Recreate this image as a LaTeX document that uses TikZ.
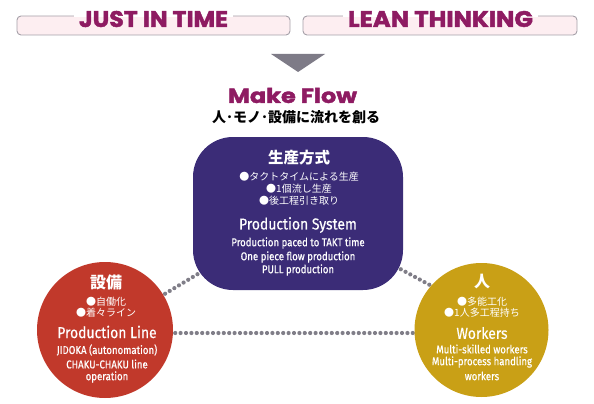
\documentclass[tikz,border=0pt]{standalone}
\usepackage{fontspec}
\setmainfont{Fira Sans}
\newfontfamily\en{Fira Sans}[FakeStretch=0.88, FakeBold=0.4]
\newfontfamily\enm{Fira Sans}[FakeStretch=0.85, FakeBold=0.6]
\newfontfamily\jp{Noto Sans CJK JP}
\newfontfamily\ban{Poppins}[FakeBold=1.8]
\usetikzlibrary{backgrounds,calc}
\definecolor{maroon}{RGB}{142,27,98}
\definecolor{bannerfill}{RGB}{253,238,241}
\definecolor{bannerline}{RGB}{165,160,168}
\definecolor{trigray}{RGB}{126,123,135}
\definecolor{psblue}{RGB}{59,44,119}
\definecolor{plred}{RGB}{193,57,43}
\definecolor{wkgold}{RGB}{201,160,22}
\definecolor{dotgray}{RGB}{128,126,136}
\tikzset{
  bannerbox/.style={draw=bannerline, fill=bannerfill, rounded corners=4pt, line width=0.9pt},
  bantext/.style={inner sep=0pt, text=maroon},
  dotline/.style={draw=dotgray, line width=4.2pt, line cap=round, dash pattern=on 0pt off 5.4pt},
  jphead/.style={inner sep=0pt, text=white, font=\jp\bfseries\fontsize{16}{16}\selectfont},
  jpitem/.style={inner sep=0pt, text=white, font=\jp\fontsize{10}{10}\selectfont},
  enhead/.style={inner sep=0pt, text=white, font=\en\fontsize{15.8}{15.8}\selectfont},
  enitem/.style={inner sep=0pt, text=white, font=\enm\fontsize{11.3}{11.3}\selectfont},
  circ/.style={circle, inner sep=0pt, minimum size=#1},
}
\begin{document}
\begin{tikzpicture}[x=1pt,y=-1pt]
\useasboundingbox (0,0) rectangle (594,404);
% banners
\draw[bannerbox] (17,16) rectangle (290,35);
\draw[bannerbox] (303,16) rectangle (577,35);
\fill[white] (74,12) rectangle (233,17.5);
\fill[white] (343,12) rectangle (538,17.5);
\node[bantext] (jit) at (153.5,19) {\resizebox{149pt}{16pt}{\ban\bfseries JUST IN TIME}};
\node[bantext] (lean) at (440.5,19) {\resizebox{185pt}{16pt}{\ban\bfseries LEAN THINKING}};
% arrow
\fill[trigray] (271,54) -- (325,54) -- (298,72) -- cycle;
% title
\node[bantext] (mf) at (292.5,95.5) {\resizebox{129pt}{15pt}{\ban\bfseries Make Flow}};
\node[inner sep=0pt, font=\jp\bfseries\fontsize{14}{14}\selectfont] (sub) at (296,117.5) {人･モノ･設備に流れを創る};
% shapes
\node[fill=psblue, rounded corners=40pt, minimum width=210pt, minimum height=153pt, inner sep=0pt] (ps) at (298,213.5) {};
\node[circ=136pt, fill=plred] (pl) at (105,330) {};
\node[circ=134pt, fill=wkgold] (pw) at (481.5,330) {};
% connectors
\begin{scope}[on background layer]
\draw[dotline] (pl.center) -- (ps.center);
\draw[dotline] ([yshift=17pt]pw.center) -- (ps.center);
\draw[dotline] ([yshift=-3pt]pl.center) -- ([yshift=-3pt]pw.center);
\end{scope}
% production system texts
\node[jphead,font=\jp\bfseries\fontsize{15.5}{15.5}\selectfont] (psj) at (299,158) {生産方式};
\node[jpitem] (psj1) at (299,177) {●タクトタイムによる生産};
\node[jpitem] (psj2) at (299,189) {●1個流し生産};
\node[jpitem] (psj3) at (299,201) {●後工程引き取り};
\node[enhead] (pse) at (298,225) {Production System};
\node[enitem] (pse1) at (298,243) {Production paced to TAKT time};
\node[enitem] (pse2) at (298,257) {One piece flow production};
\node[enitem] (pse3) at (298,270) {PULL production};
% production line texts
\node[jphead] (plj) at (106,282) {設備};
\node[jpitem] (plj1) at (106,302) {●自働化};
\node[jpitem] (plj2) at (106,313) {●着々ライン};
\node[enhead] (ple) at (107,332) {Production Line};
\node[enitem] (ple1) at (107,350) {JIDOKA (autonomation)};
\node[enitem] (ple2) at (107,364) {CHAKU-CHAKU line};
\node[enitem] (ple3) at (107,377) {operation};
% workers texts
\node[jphead] (pwj) at (482,282) {人};
\node[jpitem] (pwj1) at (482,302) {●多能工化};
\node[jpitem] (pwj2) at (482,313) {●1人多工程持ち};
\node[enhead] (pwe) at (482,333) {Workers};
\node[enitem] (pwe1) at (482,349) {Multi-skilled workers};
\node[enitem] (pwe2) at (482,362) {Multi-process handling};
\node[enitem] (pwe3) at (482,376) {workers};
\end{tikzpicture}
\end{document}
